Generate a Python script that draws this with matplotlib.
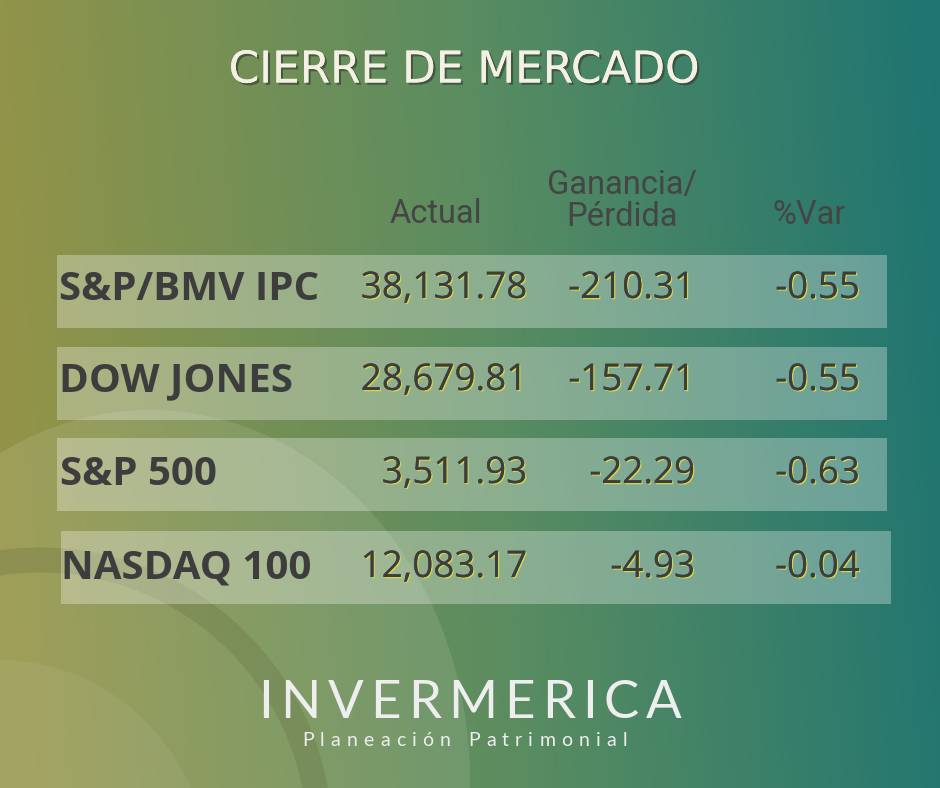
import numpy as np
import matplotlib
matplotlib.use("Agg")
import matplotlib.pyplot as plt
from matplotlib.patches import Rectangle, Ellipse
import matplotlib.patheffects as pe

# market close data
names = ["S&P/BMV IPC", "DOW JONES", "S&P 500", "NASDAQ 100"]
actual = [38131.78, 28679.81, 3511.93, 12083.17]
change = [-210.31, -157.71, -22.29, -4.93]
pct_var = [-0.55, -0.55, -0.63, -0.04]
headers = ["Actual", "Ganancia/\nPérdida", "%Var"]

W, H = 940, 788
fig = plt.figure(figsize=(W / 100, H / 100), dpi=100)
ax = fig.add_axes([0, 0, 1, 1])
ax.set_xlim(0, W)
ax.set_ylim(H, 0)
ax.axis("off")
renderer = fig.canvas.get_renderer()


def spaced_text(x0, x1, y, s, **kw):
    # place characters one by one so the string fills x0..x1
    widths = []
    for ch in s:
        t = ax.text(0, 0, ch if ch != " " else "n", **kw)
        w = t.get_window_extent(renderer).width
        t.remove()
        widths.append(w * (0.5 if ch == " " else 1.0))
    gap = (x1 - x0 - sum(widths)) / (len(s) - 1)
    x = x0
    for ch, w in zip(s, widths):
        if ch != " ":
            ax.text(x, y, ch, ha="left", va="center", **kw)
        x += w + gap


# background gradient olive -> teal
stops = np.array([[0.0, 0.58, 0.58, 0.28],
                  [0.5, 0.35, 0.55, 0.38],
                  [1.0, 0.10, 0.45, 0.45]])
xs = np.linspace(0, 1, W)
ys = np.linspace(0, 1, H)
gx, gy = np.meshgrid(xs, ys)
t = np.clip(gx * 0.94 + (0.5 - gy) * 0.06, 0, 1)
img = np.zeros((H, W, 3))
for c in range(3):
    img[..., c] = np.interp(t, stops[:, 0], stops[:, c + 1])
ax.imshow(img, extent=(0, W, H, 0), aspect="auto", zorder=0)

# faint decorative shapes bottom-left
ax.add_patch(Ellipse((150, 780), 640, 740, color="white", alpha=0.10, lw=0, zorder=1))
ax.add_patch(Ellipse((40, 840), 560, 560, fill=False, ec="#5d6a3a", alpha=0.25, lw=18, zorder=1))
ax.add_patch(Ellipse((0, 880), 420, 440, color="white", alpha=0.06, lw=0, zorder=1))

# title
ax.text(464, 70, "CIERRE DE MERCADO", fontsize=31.5, family="DejaVu Sans",
        color="#f4f0e4", ha="center", va="center", zorder=5,
        path_effects=[pe.withSimplePatchShadow(offset=(1.6, -1.6),
                                               shadow_rgbFace="#334433", alpha=0.7),
                      pe.Normal()])

# column headers
hdr_kw = dict(family="Roboto", fontsize=23.5, color="#454545", zorder=5)
ax.text(436, 214, headers[0], ha="center", va="center", **hdr_kw)
ax.text(622, 201, headers[1], ha="center", va="center", linespacing=1.0, **hdr_kw)
ax.text(809, 215, headers[2], ha="center", va="center", **hdr_kw)

# rows
row_top = [255, 347, 438, 531]
row_left = [57, 57, 57, 61]
label_x = [59, 59, 60, 61]
row_h = 73
row_w = 830
text_y = [289, 381, 474, 568]

num_fx = [pe.withSimplePatchShadow(offset=(0.9, -0.9), shadow_rgbFace="#d4d64a", alpha=1.0),
          pe.Normal()]
num_kw = dict(family="Open Sans", fontsize=26.5, color="#3d3d3d", va="center",
              ha="right", zorder=5, path_effects=num_fx)

for i in range(len(names)):
    ax.add_patch(Rectangle((row_left[i], row_top[i]), row_w, row_h,
                           color="white", alpha=0.3, lw=0, zorder=2))
    ax.text(label_x[i], text_y[i], names[i], family="Open Sans", weight="bold",
            fontsize=29, color="#3d3d3d", ha="left", va="center", zorder=5)
    ax.text(527, text_y[i], f"{actual[i]:,.2f}", **num_kw)
    ax.text(695, text_y[i], f"{change[i]:,.2f}", **num_kw)
    ax.text(860, text_y[i], f"{pct_var[i]:.2f}", **num_kw)

# logo
spaced_text(258, 682, 703, "INVERMERICA", family="Lato", fontsize=38,
            color="#eeeeee", zorder=5)
spaced_text(302, 627, 741, "Planeación Patrimonial", family="Lato", fontsize=14,
            color="#eeeeee", zorder=5)

fig.savefig("out.png", dpi=100)
